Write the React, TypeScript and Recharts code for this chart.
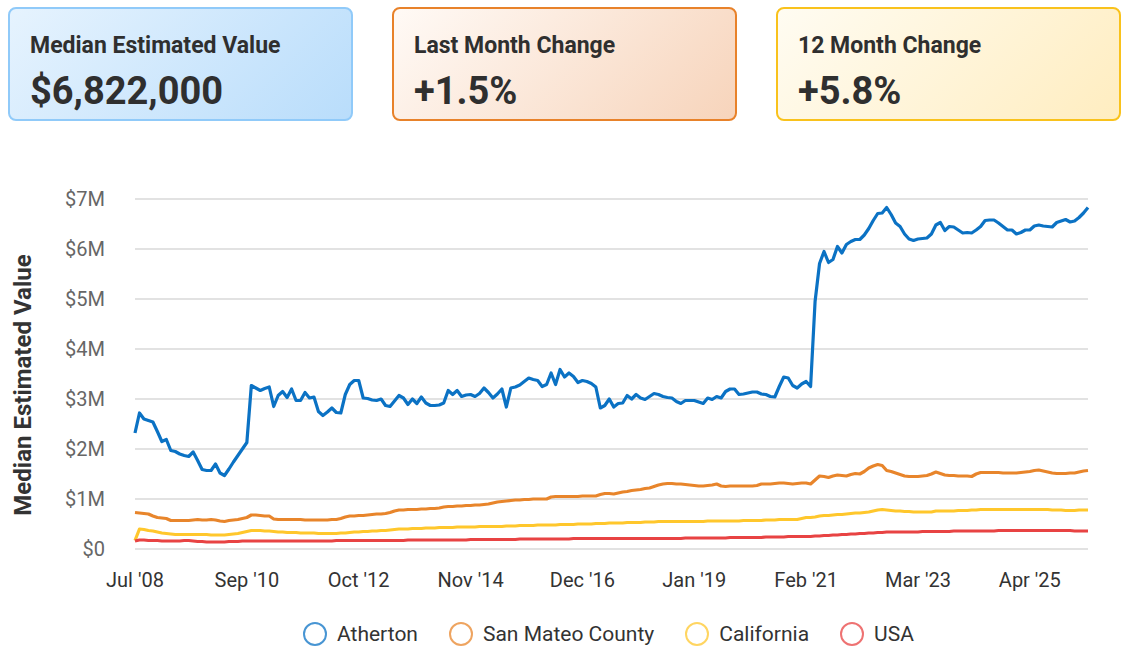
import React from 'react';
import { LineChart, Line, XAxis, YAxis, CartesianGrid } from 'recharts';

// values in $M, one per month from Jul '08
const atherton = [
  2.32, 2.72, 2.6, 2.57, 2.54, 2.35, 2.15, 2.19, 1.97, 1.95,
  1.9, 1.87, 1.85, 1.94, 1.77, 1.59, 1.57, 1.57, 1.7, 1.52,
  1.47, 1.6, 1.74, 1.87, 2.0, 2.13, 3.27, 3.22, 3.17, 3.21,
  3.24, 2.85, 3.07, 3.15, 3.03, 3.2, 2.97, 2.97, 3.13, 3.02,
  3.04, 2.75, 2.67, 2.74, 2.82, 2.73, 2.72, 3.09, 3.29, 3.37,
  3.37, 3.02, 3.01, 2.98, 2.97, 3.0, 2.87, 2.85, 2.96, 3.07,
  3.02, 2.89, 3.0, 2.91, 3.04, 2.92, 2.87, 2.87, 2.88, 2.92,
  3.17, 3.09, 3.17, 3.05, 3.08, 3.09, 3.05, 3.11, 3.22, 3.13,
  3.02, 3.1, 3.2, 2.84, 3.22, 3.24, 3.28, 3.35, 3.42, 3.39,
  3.37, 3.25, 3.29, 3.52, 3.29, 3.59, 3.44, 3.52, 3.45, 3.33,
  3.37, 3.35, 3.31, 3.24, 2.82, 2.87, 3.0, 2.84, 2.91, 2.92,
  3.07, 3.0, 3.09, 3.02, 2.99, 3.05, 3.11, 3.09, 3.05, 3.03,
  3.02, 2.95, 2.91, 2.97, 2.97, 2.97, 2.94, 2.91, 3.02, 2.99,
  3.05, 3.02, 3.15, 3.2, 3.2, 3.09, 3.1, 3.12, 3.14, 3.14,
  3.1, 3.09, 3.05, 3.04, 3.25, 3.44, 3.42, 3.27, 3.22, 3.3,
  3.35, 3.25, 4.95, 5.71, 5.95, 5.73, 5.79, 6.05, 5.92, 6.09,
  6.15, 6.19, 6.19, 6.28, 6.41, 6.57, 6.71, 6.72, 6.83, 6.69,
  6.52, 6.45, 6.3, 6.2, 6.17, 6.2, 6.21, 6.22, 6.3, 6.48,
  6.53, 6.37, 6.45, 6.44, 6.38, 6.32, 6.33, 6.32, 6.38, 6.45,
  6.57, 6.58, 6.58, 6.52, 6.45, 6.38, 6.38, 6.3, 6.33, 6.38,
  6.38, 6.46, 6.48, 6.46, 6.45, 6.44, 6.53, 6.56, 6.59, 6.54,
  6.56, 6.63, 6.72, 6.83,
];

const sanMateo = [
  0.73, 0.72, 0.71, 0.7, 0.66, 0.63, 0.62, 0.61, 0.57, 0.57,
  0.57, 0.57, 0.57, 0.58, 0.59, 0.58, 0.58, 0.59, 0.58, 0.56,
  0.55, 0.57, 0.58, 0.59, 0.61, 0.63, 0.68, 0.68, 0.67, 0.66,
  0.66, 0.6, 0.59, 0.59, 0.59, 0.59, 0.59, 0.59, 0.58, 0.58,
  0.58, 0.58, 0.58, 0.58, 0.59, 0.59, 0.61, 0.64, 0.66, 0.66,
  0.67, 0.67, 0.68, 0.69, 0.7, 0.7, 0.71, 0.73, 0.76, 0.78,
  0.78, 0.79, 0.79, 0.79, 0.8, 0.8, 0.81, 0.81, 0.82, 0.84,
  0.85, 0.85, 0.86, 0.86, 0.87, 0.87, 0.88, 0.88, 0.89, 0.9,
  0.92, 0.94, 0.95, 0.96, 0.97, 0.98, 0.98, 0.99, 0.99, 1.0,
  1.0, 1.0, 1.0, 1.04, 1.05, 1.05, 1.05, 1.05, 1.05, 1.05,
  1.06, 1.06, 1.06, 1.06, 1.09, 1.11, 1.11, 1.1, 1.12, 1.14,
  1.15, 1.17, 1.18, 1.19, 1.21, 1.22, 1.25, 1.28, 1.3, 1.31,
  1.31, 1.3, 1.3, 1.29, 1.28, 1.27, 1.26, 1.26, 1.27, 1.28,
  1.3, 1.26, 1.25, 1.26, 1.26, 1.26, 1.26, 1.26, 1.26, 1.27,
  1.3, 1.3, 1.3, 1.31, 1.32, 1.32, 1.31, 1.3, 1.31, 1.32,
  1.32, 1.3, 1.38, 1.46, 1.45, 1.43, 1.46, 1.48, 1.47, 1.46,
  1.49, 1.51, 1.5, 1.55, 1.62, 1.66, 1.69, 1.67, 1.57, 1.55,
  1.52, 1.49, 1.46, 1.45, 1.45, 1.45, 1.46, 1.47, 1.5, 1.54,
  1.51, 1.48, 1.47, 1.47, 1.46, 1.46, 1.46, 1.45, 1.5, 1.53,
  1.53, 1.53, 1.53, 1.53, 1.52, 1.52, 1.52, 1.52, 1.53, 1.54,
  1.55, 1.57, 1.58, 1.56, 1.54, 1.52, 1.51, 1.51, 1.51, 1.52,
  1.52, 1.54, 1.56, 1.57,
];

const california = [
  0.17, 0.4, 0.39, 0.37, 0.36, 0.34, 0.32, 0.31, 0.3, 0.29,
  0.29, 0.29, 0.29, 0.29, 0.29, 0.29, 0.29, 0.28, 0.28, 0.28,
  0.28, 0.29, 0.3, 0.31, 0.33, 0.35, 0.37, 0.37, 0.37, 0.36,
  0.36, 0.35, 0.34, 0.34, 0.33, 0.33, 0.33, 0.32, 0.32, 0.32,
  0.32, 0.31, 0.31, 0.31, 0.31, 0.31, 0.32, 0.32, 0.33, 0.34,
  0.34, 0.35, 0.35, 0.36, 0.36, 0.37, 0.37, 0.38, 0.39, 0.4,
  0.4, 0.4, 0.41, 0.41, 0.41, 0.42, 0.42, 0.42, 0.43, 0.43,
  0.43, 0.43, 0.44, 0.44, 0.44, 0.44, 0.44, 0.45, 0.45, 0.45,
  0.45, 0.45, 0.45, 0.46, 0.46, 0.46, 0.47, 0.47, 0.47, 0.47,
  0.48, 0.48, 0.48, 0.48, 0.48, 0.49, 0.49, 0.49, 0.49, 0.5,
  0.5, 0.5, 0.5, 0.51, 0.51, 0.51, 0.52, 0.52, 0.52, 0.52,
  0.53, 0.53, 0.53, 0.53, 0.54, 0.54, 0.54, 0.55, 0.55, 0.55,
  0.55, 0.55, 0.55, 0.55, 0.55, 0.55, 0.55, 0.55, 0.56, 0.56,
  0.56, 0.56, 0.56, 0.56, 0.56, 0.56, 0.57, 0.57, 0.57, 0.57,
  0.57, 0.58, 0.58, 0.58, 0.59, 0.59, 0.59, 0.59, 0.59, 0.61,
  0.63, 0.63, 0.64, 0.66, 0.67, 0.67, 0.68, 0.69, 0.69, 0.7,
  0.71, 0.72, 0.72, 0.73, 0.74, 0.76, 0.78, 0.79, 0.78, 0.77,
  0.76, 0.76, 0.75, 0.75, 0.74, 0.74, 0.74, 0.74, 0.74, 0.76,
  0.76, 0.76, 0.76, 0.76, 0.77, 0.77, 0.77, 0.78, 0.78, 0.79,
  0.79, 0.79, 0.79, 0.79, 0.79, 0.79, 0.79, 0.79, 0.79, 0.79,
  0.79, 0.79, 0.79, 0.79, 0.79, 0.78, 0.78, 0.78, 0.77, 0.77,
  0.77, 0.78, 0.78, 0.78,
];

const usa = [
  0.16, 0.18, 0.18, 0.17, 0.17, 0.17, 0.16, 0.16, 0.16, 0.16,
  0.16, 0.17, 0.17, 0.16, 0.15, 0.15, 0.14, 0.14, 0.14, 0.14,
  0.14, 0.15, 0.15, 0.15, 0.16, 0.16, 0.16, 0.16, 0.16, 0.16,
  0.16, 0.16, 0.16, 0.16, 0.16, 0.16, 0.16, 0.16, 0.16, 0.16,
  0.16, 0.16, 0.16, 0.16, 0.16, 0.17, 0.17, 0.17, 0.17, 0.17,
  0.17, 0.17, 0.17, 0.17, 0.17, 0.17, 0.17, 0.17, 0.17, 0.17,
  0.17, 0.18, 0.18, 0.18, 0.18, 0.18, 0.18, 0.18, 0.18, 0.18,
  0.18, 0.18, 0.18, 0.18, 0.18, 0.19, 0.19, 0.19, 0.19, 0.19,
  0.19, 0.19, 0.19, 0.19, 0.19, 0.19, 0.2, 0.2, 0.2, 0.2,
  0.2, 0.2, 0.2, 0.2, 0.2, 0.2, 0.2, 0.2, 0.21, 0.21,
  0.21, 0.21, 0.21, 0.21, 0.21, 0.21, 0.21, 0.21, 0.21, 0.21,
  0.21, 0.21, 0.21, 0.21, 0.21, 0.21, 0.21, 0.21, 0.21, 0.21,
  0.21, 0.21, 0.21, 0.22, 0.22, 0.22, 0.22, 0.22, 0.22, 0.22,
  0.22, 0.22, 0.22, 0.23, 0.23, 0.23, 0.23, 0.23, 0.23, 0.23,
  0.23, 0.24, 0.24, 0.24, 0.24, 0.24, 0.25, 0.25, 0.25, 0.25,
  0.25, 0.25, 0.26, 0.26, 0.27, 0.27, 0.28, 0.28, 0.29, 0.29,
  0.3, 0.3, 0.31, 0.31, 0.32, 0.32, 0.33, 0.33, 0.34, 0.34,
  0.34, 0.34, 0.34, 0.34, 0.34, 0.34, 0.35, 0.35, 0.35, 0.35,
  0.35, 0.35, 0.35, 0.36, 0.36, 0.36, 0.36, 0.36, 0.36, 0.36,
  0.36, 0.36, 0.36, 0.37, 0.37, 0.37, 0.37, 0.37, 0.37, 0.37,
  0.37, 0.37, 0.37, 0.37, 0.37, 0.37, 0.37, 0.37, 0.37, 0.37,
  0.36, 0.36, 0.36, 0.36,
];

const xTicks = ["Jul '08", "Sep '10", "Oct '12", "Nov '14", "Dec '16", "Jan '19", "Feb '21", "Mar '23", "Apr '25"];
const yTicks = [0, 1, 2, 3, 4, 5, 6, 7];

const MONTHS = ['Jan', 'Feb', 'Mar', 'Apr', 'May', 'Jun', 'Jul', 'Aug', 'Sep', 'Oct', 'Nov', 'Dec'];
// the source series skips one month in 2009
const monthLabel = (i: number) => {
  const m = 6 + i + (i >= 14 ? 1 : 0);
  const yr = 8 + Math.floor(m / 12);
  return `${MONTHS[m % 12]} '${String(yr).padStart(2, '0')}`;
};

const data = atherton.map((v, i) => ({
  month: monthLabel(i),
  atherton: v,
  sanMateo: sanMateo[i],
  california: california[i],
  usa: usa[i],
}));

const series = [
  { key: 'atherton', name: 'Atherton', color: '#0b72c4' },
  { key: 'sanMateo', name: 'San Mateo County', color: '#e8852b' },
  { key: 'california', name: 'California', color: '#ffc72c' },
  { key: 'usa', name: 'USA', color: '#e84343' },
];

const cards = [
  { title: 'Median Estimated Value', value: '$6,822,000', border: '#90caf9', bg: 'linear-gradient(135deg, #e6f3fe 0%, #b9ddfb 100%)', left: 8 },
  { title: 'Last Month Change', value: '+1.5%', border: '#e8822a', bg: 'linear-gradient(135deg, #fffaf6 0%, #f7d4bb 100%)', left: 392 },
  { title: '12 Month Change', value: '+5.8%', border: '#f9c21c', bg: 'linear-gradient(135deg, #fffcf2 0%, #ffedc0 100%)', left: 776 },
];

const font = 'Roboto, "Noto Sans", sans-serif';

export default function App() {
  return (
    <div style={{ position: 'relative', width: 1125, height: 646, fontFamily: font, color: '#333', overflow: 'hidden' }}>
      <style>{'body{margin:0}'}</style>
      {cards.map((c) => (
        <div
          key={c.title}
          style={{
            position: 'absolute',
            left: c.left,
            top: 7,
            width: 345,
            height: 114,
            boxSizing: 'border-box',
            border: `2px solid ${c.border}`,
            borderRadius: 8,
            background: c.bg,
            padding: '23px 20px 0 20px',
          }}
        >
          <div style={{ fontSize: 23, fontWeight: 700, lineHeight: '27px', color: '#2f2f2f' }}>{c.title}</div>
          <div style={{ fontSize: 38, fontWeight: 700, lineHeight: '44px', marginTop: 10, color: '#2f2f2f' }}>{c.value}</div>
        </div>
      ))}

      <div
        style={{
          position: 'absolute',
          left: 23,
          top: 385,
          transform: 'translate(-50%, -50%) rotate(-90deg)',
          whiteSpace: 'nowrap',
          fontSize: 24,
          fontWeight: 700,
          color: '#333',
        }}
      >
        Median Estimated Value
      </div>

      <div style={{ position: 'absolute', left: 0, top: 150 }}>
        <LineChart width={1100} height={496} data={data} margin={{ top: 49, right: 12, left: 0, bottom: 0 }}>
          <CartesianGrid vertical={false} stroke="#c6c6c6" strokeWidth={1.2} />
          <XAxis
            dataKey="month"
            ticks={xTicks}
            interval={0}
            axisLine={false}
            tickLine={false}
            tickMargin={18}
            height={97}
            tick={{ fill: '#333', fontSize: 20, fontFamily: font }}
          />
          <YAxis
            domain={[0, 7]}
            ticks={yTicks}
            width={135}
            axisLine={false}
            tickLine={false}
            tickMargin={24}
            tickFormatter={(v: number) => (v === 0 ? '$0' : `$${v}M`)}
            tick={{ fill: '#666', fontSize: 20, fontFamily: font }}
          />
          {series.map((s) => (
            <Line
              key={s.key}
              type="linear"
              dataKey={s.key}
              name={s.name}
              stroke={s.color}
              strokeWidth={3.2}
              dot={false}
              activeDot={false}
              strokeLinejoin="round"
              isAnimationActive={false}
            />
          ))}
        </LineChart>
      </div>

      <div style={{ position: 'absolute', left: 303, top: 622, display: 'flex', alignItems: 'center', height: 24 }}>
        {series.map((s) => (
          <div key={s.key} style={{ display: 'flex', alignItems: 'center', marginRight: 31 }}>
            <svg width={24} height={24} style={{ display: 'block' }}>
              <circle cx={12} cy={12} r={11} fill="none" stroke={s.color} strokeOpacity={0.75} strokeWidth={2} />
            </svg>
            <span style={{ marginLeft: 10, fontSize: 21, color: '#333', lineHeight: '24px' }}>{s.name}</span>
          </div>
        ))}
      </div>
    </div>
  );
}
